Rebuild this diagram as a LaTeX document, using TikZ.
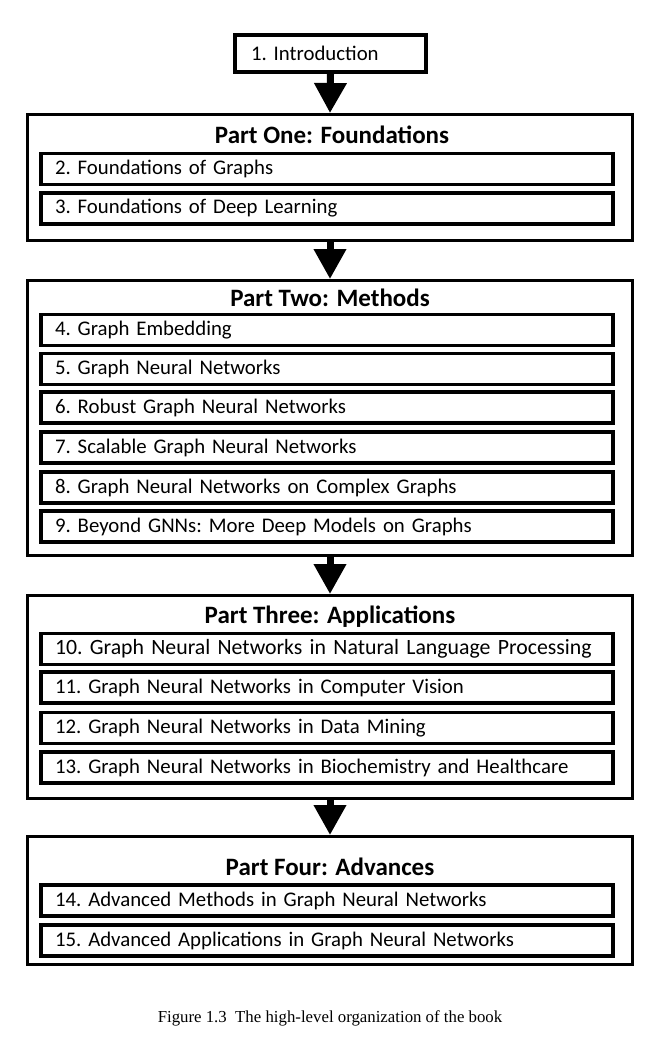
\documentclass[tikz,border=0pt]{standalone}
\usepackage{fontspec}
\setmainfont{Carlito}
\newfontfamily\capfont{Liberation Serif}
\usetikzlibrary{arrows.meta}

\tikzset{
	chapbox/.style={draw, line width=3.5pt, minimum width=572pt, minimum height=31pt, text width=544pt, inner xsep=14pt, inner ysep=0pt, align=left, font=\frenchspacing\fontsize{20.8}{24}\selectfont},
	partbox/.style={draw, line width=3pt, minimum width=605pt, inner sep=0pt},
	ptitle/.style={anchor=base, inner sep=0pt, font=\bfseries\fontsize{25}{28}\selectfont},
	flow/.style={line width=7pt, -{Triangle[width=31pt,length=30pt]}}
}

\begin{document}
\begin{tikzpicture}[x=1pt, y=-1pt]
	\useasboundingbox (0,0) rectangle (662,1058);
	\node[draw, line width=4pt, minimum width=191pt, minimum height=37pt, text width=159pt, inner xsep=16pt, inner ysep=0pt, align=left, font=\frenchspacing\fontsize{20.8}{24}\selectfont] (intro) at (330.5,53.5) {1. Introduction};
	\node[partbox, minimum height=126pt] (p1) at (330,177.5) {};
	\node[ptitle] (t1) at (332,143) {Part One: Foundations};
	\node[chapbox] (c2) at (327,169) {2. Foundations of Graphs};
	\node[chapbox] (c3) at (327,208.5) {3. Foundations of Deep Learning};
	\node[partbox, minimum height=275pt] (p2) at (330,418) {};
	\node[ptitle] (t2) at (330,306) {Part Two: Methods};
	\node[chapbox] (c4) at (327,330) {4. Graph Embedding};
	\node[chapbox] (c5) at (327,369) {5. Graph Neural Networks};
	\node[chapbox] (c6) at (327,407.5) {6. Robust Graph Neural Networks};
	\node[chapbox] (c7) at (327,447.5) {7. Scalable Graph Neural Networks};
	\node[chapbox] (c8) at (327,487.5) {8. Graph Neural Networks on Complex Graphs};
	\node[chapbox] (c9) at (327,526.5) {9. Beyond GNNs: More Deep Models on Graphs};
	\node[partbox, minimum height=203pt] (p3) at (330,697) {};
	\node[ptitle] (t3) at (330,623) {Part Three: Applications};
	\node[chapbox, font=\frenchspacing\fontsize{21.8}{25}\selectfont] (c10) at (327,649) {10. Graph Neural Networks in Natural Language Processing};
	\node[chapbox] (c11) at (327,687.5) {11. Graph Neural Networks in Computer Vision};
	\node[chapbox] (c12) at (327,728) {12. Graph Neural Networks in Data Mining};
	\node[chapbox] (c13) at (327,767.5) {13. Graph Neural Networks in Biochemistry and Healthcare};
	\node[partbox, minimum height=128pt] (p4) at (330,900.5) {};
	\node[ptitle] (t4) at (330,875) {Part Four: Advances};
	\node[chapbox] (c14) at (327,900.5) {14. Advanced Methods in Graph Neural Networks};
	\node[chapbox] (c15) at (327,940.5) {15. Advanced Applications in Graph Neural Networks};
	\draw[flow] (intro.south) -- (p1.north);
	\draw[flow] (p1) -- (p2);
	\draw[flow] (p2) -- (p3);
	\draw[flow] (p3) -- (p4);
	\node[anchor=base, font=\capfont\fontsize{16.8}{20}\selectfont] (cap) at (330,1022) {Figure 1.3\ \ The high-level organization of the book};
\end{tikzpicture}
\end{document}
